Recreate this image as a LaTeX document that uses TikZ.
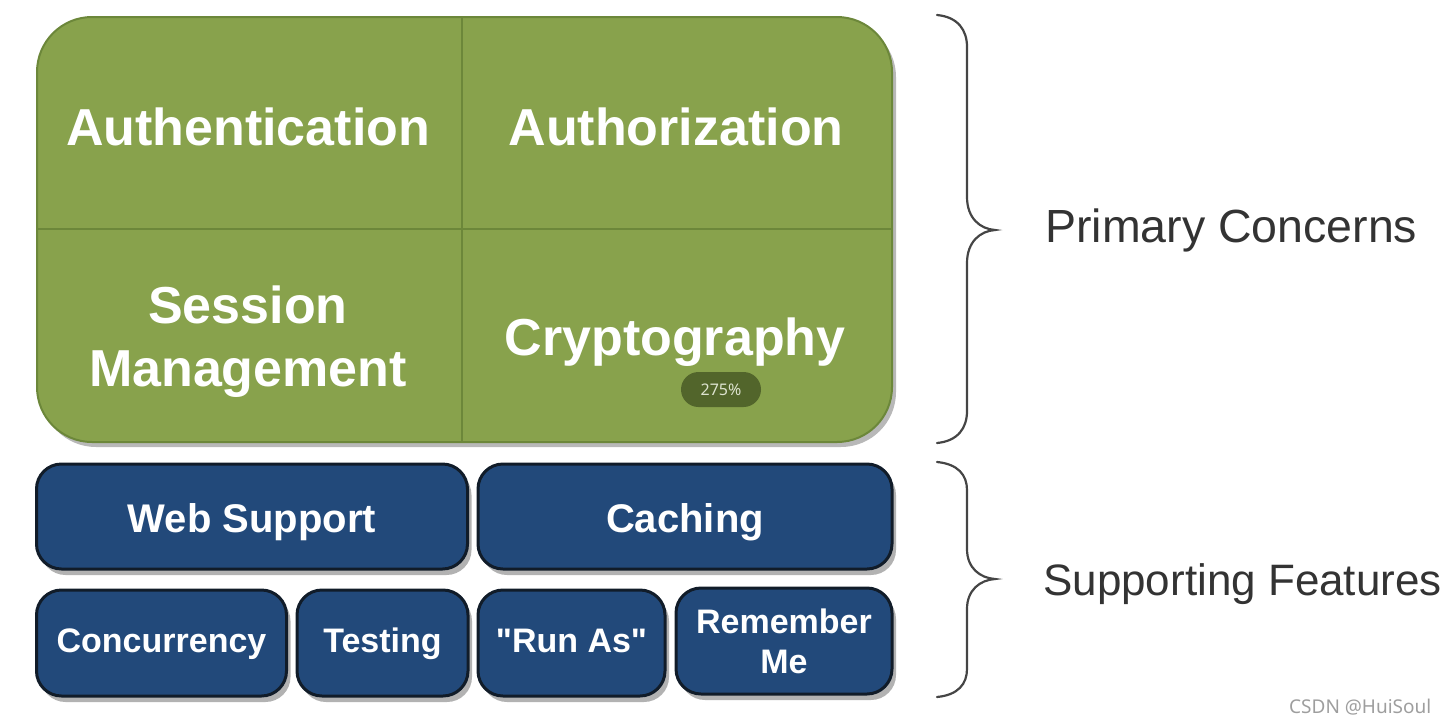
\documentclass[tikz,border=0pt]{standalone}
\usepackage{fontspec}
\setmainfont{Liberation Sans}[Ligatures=TeXOff]
\newfontfamily\wmfont{Noto Sans}
\usetikzlibrary{shadows}
\definecolor{shgreen}{HTML}{88A24C}
\definecolor{shgreenline}{HTML}{6C873A}
\definecolor{shblue}{HTML}{22497A}
\definecolor{shblueline}{HTML}{111C29}
\definecolor{bracegray}{HTML}{454545}
\definecolor{lblgray}{HTML}{333333}
\definecolor{badgefill}{HTML}{52652B}
\definecolor{badgetext}{HTML}{DDE3CF}
\begin{document}
\begin{tikzpicture}[x=1pt,y=-1pt,
  greenbox/.style={draw=shgreenline, line width=2pt, fill=shgreen, rounded corners=55pt,
    drop shadow={shadow xshift=4pt, shadow yshift=-5pt, fill=black, opacity=0.28}},
  divline/.style={draw=shgreenline, line width=2pt},
  gtext/.style={text=white, font=\bfseries\fontsize{52}{63}\selectfont, inner sep=0pt},
  bluebox/.style={draw=shblueline, line width=3pt, fill=shblue, rounded corners=25pt,
    text=white, inner sep=0pt,
    drop shadow={shadow xshift=4pt, shadow yshift=-6pt, fill=black, opacity=0.3}},
  bigfeat/.style={bluebox, minimum height=105pt, font=\bfseries\fontsize{40}{46}\selectfont,
    text height=31pt, text depth=0pt},
  smallfeat/.style={bluebox, minimum height=106pt, font=\bfseries\fontsize{34}{40}\selectfont,
    text height=18pt, text depth=0pt},
  bracestyle/.style={draw=bracegray, line width=2.2pt, line cap=round},
  lbl/.style={text=lblgray, inner sep=0pt, anchor=base west},
  badge/.style={fill=badgefill, rounded corners=17.5pt, minimum width=80pt, minimum height=35pt,
    text=badgetext, font=\wmfont\fontsize{16}{18}\selectfont, inner sep=0pt}
]
\useasboundingbox (0,0) rectangle (1445,724);

% primary concerns block
\node[greenbox, minimum width=855pt, minimum height=425pt] (prim) at (464.5,229.5) {};
\coordinate (vtop) at (462,17);
\coordinate (vbot) at (462,442);
\coordinate (hleft) at (37,229);
\coordinate (hright) at (892,229);
\draw[divline] (vtop) -- (vbot);
\draw[divline] (hleft) -- (hright);

\node[gtext, anchor=base] (authn) at (248,145) {Authentication};
\node[gtext, anchor=base] (authz) at (676,145) {Authorization};
\node[gtext, align=center] (sess) at (248,342) {Session\\Management};
\node[gtext, anchor=base] (crypt) at (675,355) {Cryptography};

\node[badge] (zoompill) at (721,389.5) {275\%};

% supporting features
\node[bigfeat, minimum width=431pt] (web) at (252,516.5) {Web Support};
\node[bigfeat, minimum width=414pt] (cache) at (685,516.5) {Caching};
\node[smallfeat, minimum width=250pt] (conc) at (161.5,643) {Concurrency};
\node[smallfeat, minimum width=171pt] (test) at (382.5,643) {Testing};
\node[smallfeat, minimum width=187pt] (runas) at (571.5,643) {"Run As"};
\node[bluebox, minimum width=216pt, minimum height=106pt,
  font=\bfseries\fontsize{34}{40}\selectfont, align=center] (remme) at (784,641) {Remember\\Me};

% braces
\coordinate (b1s) at (937,15);
\coordinate (b1a) at (967,47);
\coordinate (b1b) at (967,197);
\coordinate (b1tip) at (995,230);
\coordinate (b1c) at (967,263);
\coordinate (b1d) at (967,411);
\coordinate (b1e) at (937,443);
\draw[bracestyle] (b1s) .. controls (958,17) and (967,30) .. (b1a) -- (b1b)
  .. controls (967,218) and (980,229) .. (b1tip)
  .. controls (980,231) and (967,242) .. (b1c) -- (b1d)
  .. controls (967,428) and (958,441) .. (b1e);

\coordinate (b2s) at (937,462);
\coordinate (b2a) at (967,490);
\coordinate (b2b) at (967,549);
\coordinate (b2tip) at (995,579);
\coordinate (b2c) at (967,609);
\coordinate (b2d) at (967,669);
\coordinate (b2e) at (937,697);
\draw[bracestyle] (b2s) .. controls (958,464) and (967,475) .. (b2a) -- (b2b)
  .. controls (967,568) and (980,578) .. (b2tip)
  .. controls (980,580) and (967,590) .. (b2c) -- (b2d)
  .. controls (967,684) and (958,695) .. (b2e);

\node[lbl, font=\fontsize{46.5}{54}\selectfont] (pc) at (1045,242) {Primary Concerns};
\node[lbl, font=\fontsize{44}{52}\selectfont] (sf) at (1043,595) {Supporting Features};

\node[lbl, text=black!38, font=\wmfont\fontsize{19}{22}\selectfont] (wm) at (1289,713) {CSDN @HuiSoul};
\end{tikzpicture}
\end{document}
